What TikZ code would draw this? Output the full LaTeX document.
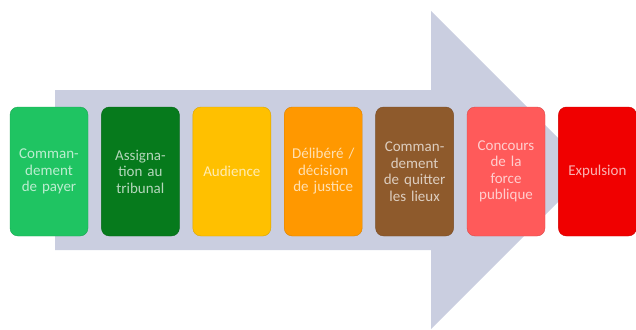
\documentclass[tikz,border=0pt]{standalone}
\usepackage{fontspec}
\setmainfont{Carlito}
\usetikzlibrary{positioning}

\definecolor{arrowbg}{HTML}{CACEE0}
\definecolor{cpayer}{HTML}{1FC462}
\definecolor{cassign}{HTML}{067A1C}
\definecolor{caudience}{HTML}{FFC000}
\definecolor{cdelib}{HTML}{FF9800}
\definecolor{cquit}{HTML}{8E5A2C}
\definecolor{cconcours}{HTML}{FF5A5A}
\definecolor{cexpul}{HTML}{F00000}

\begin{document}
\begin{tikzpicture}[x=1pt,y=-1pt,node distance=13pt,
      every node/.style = {shape=rectangle, rounded corners=8pt,
        align=center, minimum width=78pt, minimum height=129pt,
        text width=66pt, font=\fontsize{15}{16.5}\selectfont},
      stage/.style = {fill=#1, draw=#1!85!black, text=white!70!#1}]
  \useasboundingbox (0,0) rectangle (636,329);
  % the big arrow behind the stages
  \fill[arrowbg] (55,90) -- (431,90) -- (431,11) -- (590,170)
    -- (431,329) -- (431,250) -- (55,250) -- cycle;
  \node[stage=cpayer] (payer) at (49,171.5) {Comman-\\dement\\de payer};
  \node[stage=cassign, right=of payer] (assign) {Assigna-\\tion au\\tribunal};
  \node[stage=caudience, right=of assign] (audience) {Audience};
  \node[stage=cdelib, right=of audience] (delib) {Délibéré /\\décision\\de justice};
  \node[stage=cquit, right=of delib] (quit) {Comman-\\dement\\de quitter\\les lieux};
  \node[stage=cconcours, right=of quit] (concours) {Concours\\de la\\force\\publique};
  \node[stage=cexpul, right=of concours] (expul) {Expulsion};
\end{tikzpicture}
\end{document}
